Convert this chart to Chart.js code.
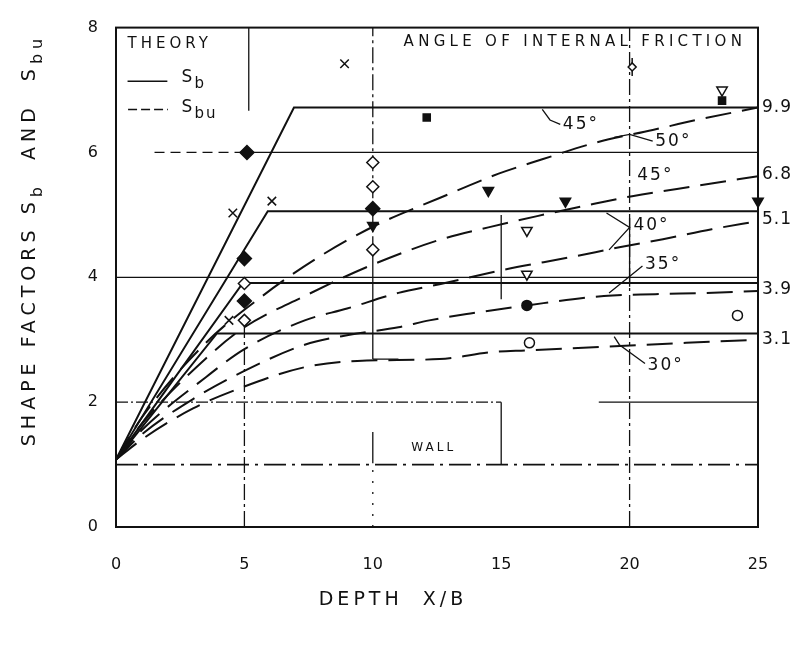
<!DOCTYPE html>
<html>
<head>
<meta charset="utf-8">
<title>Shape factors Sb and Sbu vs depth</title>
<script src="https://cdn.jsdelivr.net/npm/chart.js@4.4.1/dist/chart.umd.min.js"></script>
<style>
  html, body { margin: 0; padding: 0; background: #fff; }
  #chart { display: block; }
</style>
</head>
<body>
<canvas id="chart" width="803" height="647"></canvas>
<script>
// shape factors Sb / Sbu against depth X/B - theory curves plus test points

const xTicks = [0, 5, 10, 15, 20, 25];
const yTicks = [0, 2, 4, 6, 8];

// theory Sb (solid): straight rise, then flat
const sb30X = [0, 3.93, 25], sb30Y = [1.08, 3.1, 3.1];
const sb35X = [0, 4.94, 25], sb35Y = [1.08, 3.91, 3.91];
const sb40X = [0, 5.91, 25], sb40Y = [1.08, 5.06, 5.06];
const sb45X = [0, 6.93, 25], sb45Y = [1.08, 6.72, 6.72];

// theory Sbu (dashed)
const sbu50X = [0, 1, 3.5, 5.7, 7.8, 10.1, 12.6, 14.9, 16.6, 18.7, 20.9, 22.6, 25];
const sbu50Y = [1.08, 1.75, 2.95, 3.7, 4.3, 4.83, 5.27, 5.66, 5.89, 6.16, 6.36, 6.52, 6.72];
const sbu45X = [0, 1, 3.5, 5, 7.35, 9.8, 12.6, 14.5, 16.4, 18.2, 20.1, 22.7, 25];
const sbu45Y = [1.08, 1.65, 2.7, 3.2, 3.7, 4.17, 4.6, 4.8, 4.98, 5.14, 5.3, 5.47, 5.62];
const sbu40X = [0, 1, 3.5, 5, 7.35, 9, 11, 12.6, 15.1, 17.8, 19.6, 21.3, 23.2, 25];
const sbu40Y = [1.08, 1.55, 2.4, 2.85, 3.31, 3.5, 3.75, 3.89, 4.12, 4.33, 4.48, 4.61, 4.77, 4.9];
const sbu35X = [0, 1, 3, 5, 7.35, 9.1, 11, 12.2, 13.8, 16, 19, 21, 23, 25];
const sbu35Y = [1.08, 1.48, 2.05, 2.5, 2.92, 3.08, 3.2, 3.31, 3.42, 3.55, 3.7, 3.73, 3.75, 3.78];
const sbu30X = [0, 1, 3, 5, 7.35, 9.4, 12.6, 14.6, 16, 18.6, 22.2, 25];
const sbu30Y = [1.08, 1.4, 1.9, 2.25, 2.56, 2.66, 2.69, 2.8, 2.83, 2.88, 2.95, 3.0];

// test points
const crossX = [8.9, 4.55, 6.07, 4.4], crossY = [7.42, 5.03, 5.22, 3.31];
const fDiamondX = [5.1, 10, 5, 5], fDiamondY = [6.0, 5.1, 4.3, 3.62];
const oDiamondX = [10, 10, 10, 5, 5], oDiamondY = [5.84, 5.45, 4.44, 3.9, 3.31];
const fTriX = [10, 14.5, 17.5, 25], fTriY = [4.83, 5.39, 5.22, 5.22];
const oTriX = [23.6, 16, 16], oTriY = [7.0, 4.75, 4.05];
const fSquareX = [12.1, 23.6], fSquareY = [6.56, 6.83];
const fCircleX = [16], fCircleY = [3.55];
const oCircleX = [16.1, 24.2], oCircleY = [2.95, 3.39];
const phiX = [20.1], phiY = [7.37];

// end values written at the right edge
const endLabels = ['9.9', '6.8', '5.1', '3.9', '3.1'];
const endLabelY = [6.72, 5.64, 4.93, 3.8, 3.0];

const INK = '#111';
const DASHDOT = [16, 4, 3, 4];

function pts(xs, ys) {
    return xs.map((x, i) => ({ x, y: ys[i] }));
}

function marker(xs, ys, style, opts) {
    return Object.assign({
        data: pts(xs, ys),
        showLine: false,
        pointStyle: style,
        pointRadius: 6,
        pointBorderColor: INK,
        pointBackgroundColor: INK,
        pointBorderWidth: 1.5,
        clip: false
    }, opts || {});
}

function solid(xs, ys) {
    return { data: pts(xs, ys), showLine: true, borderColor: INK, borderWidth: 2, pointRadius: 0, tension: 0 };
}

function dashed(xs, ys) {
    return {
        data: pts(xs, ys), showLine: true, borderColor: INK, borderWidth: 2,
        borderDash: [26, 11], pointRadius: 0, cubicInterpolationMode: 'monotone'
    };
}

// guide lines of the old drawing (partial grid, wall, legend box)
const guides = [
    { x: [0, 25], y: [4, 4], dash: [] },
    { x: [1.5, 5], y: [6, 6], dash: [10, 6] },
    { x: [5, 25], y: [6, 6], dash: [] },
    { x: [0, 15], y: [2, 2], dash: [12, 3, 2, 3] },
    { x: [18.8, 25], y: [2, 2], dash: [] },
    { x: [0, 25], y: [1.0, 1.0], dash: [22, 6, 3, 6], w: 1.8 },
    { x: [5, 5], y: [0, 3.3], dash: DASHDOT },
    { x: [5.17, 5.17], y: [6.67, 8], dash: [] },
    { x: [10, 10], y: [4.4, 8], dash: DASHDOT },
    { x: [10, 10], y: [2.69, 4.4], dash: [] },
    { x: [10, 11], y: [2.69, 2.69], dash: [] },
    { x: [10, 10], y: [1.02, 1.52], dash: [] },
    { x: [10, 10], y: [0, 1.0], dash: [2, 9] },
    { x: [15, 15], y: [3.65, 5.0], dash: [] },
    { x: [15, 15], y: [1.0, 2.0], dash: [] },
    { x: [20, 20], y: [0, 8], dash: DASHDOT },
    { x: [20, 20], y: [3.85, 4.95], dash: [] }
];

const datasets = [
    marker(crossX, crossY, 'crossRot', { pointRadius: 6 }),
    marker(fDiamondX, fDiamondY, 'rectRot', { pointRadius: 7 }),
    marker(oDiamondX, oDiamondY, 'rectRot', { pointRadius: 6, pointBackgroundColor: '#fff' }),
    marker(fTriX, fTriY, 'triangle', { pointRotation: 180, pointRadius: 6 }),
    marker(oTriX, oTriY, 'triangle', { pointRotation: 180, pointRadius: 6, pointBackgroundColor: '#fff' }),
    marker(fSquareX, fSquareY, 'rect', { pointRadius: 5 }),
    marker(fCircleX, fCircleY, 'circle', { pointRadius: 5 }),
    marker(oCircleX, oCircleY, 'circle', { pointRadius: 5, pointBackgroundColor: '#fff' }),
    marker(phiX, phiY, 'rectRot', { pointRadius: 4, pointBackgroundColor: '#fff' }),
    marker(phiX, phiY, 'line', { pointRadius: 9, pointRotation: 90 }),
    solid(sb30X, sb30Y), solid(sb35X, sb35Y), solid(sb40X, sb40Y), solid(sb45X, sb45Y),
    dashed(sbu50X, sbu50Y), dashed(sbu45X, sbu45Y), dashed(sbu40X, sbu40Y),
    dashed(sbu35X, sbu35Y), dashed(sbu30X, sbu30Y)
];

guides.forEach(g => {
    datasets.push({
        data: pts(g.x, g.y), showLine: true, borderColor: INK, borderWidth: g.w || 1.3,
        borderDash: g.dash, pointRadius: 0
    });
});

// text, leaders, legend and frame
const annotate = {
    id: 'annotate',
    afterDatasetsDraw(chart) {
        const { ctx, chartArea: a, scales } = chart;
        const X = v => scales.x.getPixelForValue(v);
        const Y = v => scales.y.getPixelForValue(v);

        function txt(s, x, y, size, align, spacing) {
            ctx.font = size + 'px "DejaVu Sans", sans-serif';
            ctx.letterSpacing = (spacing || 0) + 'px';
            ctx.textAlign = align || 'left';
            ctx.textBaseline = 'middle';
            ctx.fillText(s, x, y);
        }

        function poly(xs, ys) {
            ctx.beginPath();
            xs.forEach((v, i) => i ? ctx.lineTo(X(v), Y(ys[i])) : ctx.moveTo(X(v), Y(ys[i])));
            ctx.stroke();
        }

        ctx.save();
        ctx.fillStyle = INK;
        ctx.strokeStyle = INK;

        // frame
        ctx.lineWidth = 2;
        ctx.strokeRect(a.left, a.top, a.right - a.left, a.bottom - a.top);

        // legend box contents
        txt('THEORY', X(0.45), Y(7.74), 15, 'left', 4);
        ctx.lineWidth = 1.5;
        poly([0.45, 2.0], [7.14, 7.14]);
        ctx.setLineDash([9, 4]);
        poly([0.47, 2.02], [6.69, 6.69]);
        ctx.setLineDash([]);
        txt('S', X(2.55), Y(7.2), 17, 'left', 0);
        txt('b', X(2.55) + 13, Y(7.2) + 7, 15, 'left', 0);
        txt('S', X(2.55), Y(6.72), 17, 'left', 0);
        txt('bu', X(2.55) + 13, Y(6.72) + 7, 15, 'left', 2);
        txt('ANGLE OF INTERNAL FRICTION', X(11.2), Y(7.77), 15, 'left', 4.3);

        // angle labels and their leaders
        txt('45°', X(17.4), Y(6.44), 17, 'left', 2);
        txt('50°', X(21.0), Y(6.17), 17, 'left', 2);
        txt('45°', X(20.3), Y(5.63), 17, 'left', 2);
        txt('40°', X(20.15), Y(4.83), 17, 'left', 2);
        txt('35°', X(20.6), Y(4.2), 17, 'left', 2);
        txt('30°', X(20.7), Y(2.58), 17, 'left', 2);
        ctx.lineWidth = 1.3;
        poly([16.6, 16.9, 17.3], [6.69, 6.52, 6.45]);
        poly([19.4, 20.0, 20.9], [6.24, 6.29, 6.18]);
        poly([19.1, 20.0, 19.2], [5.03, 4.8, 4.44]);
        poly([20.5, 19.9, 19.2], [4.18, 3.98, 3.75]);
        poly([20.6, 19.6, 19.4], [2.62, 2.92, 3.05]);

        // end values on the right
        endLabels.forEach((s, i) => txt(s, a.right + 4, Y(endLabelY[i]), 17, 'left', 1));

        txt('WALL', X(11.5), Y(1.27), 12, 'left', 3);

        // axis titles
        txt('DEPTH  X/B', 393, 600, 19, 'center', 4);

        ctx.translate(30, 240);
        ctx.rotate(-Math.PI / 2);
        const parts = [['SHAPE FACTORS S', 19, 0], ['b', 16, 8], ['  AND  S', 19, 0], ['bu', 16, 8]];
        ctx.letterSpacing = '5px';
        let total = 0;
        parts.forEach(p => { ctx.font = p[1] + 'px "DejaVu Sans", sans-serif'; total += ctx.measureText(p[0]).width; });
        let cx = -total / 2;
        parts.forEach(p => {
            ctx.font = p[1] + 'px "DejaVu Sans", sans-serif';
            ctx.textAlign = 'left';
            ctx.textBaseline = 'middle';
            ctx.fillText(p[0], cx, p[2]);
            cx += ctx.measureText(p[0]).width;
        });
        ctx.restore();
    }
};

new Chart(document.getElementById('chart'), {
    type: 'scatter',
    data: { datasets },
    options: {
        responsive: false,
        animation: false,
        devicePixelRatio: 1,
        layout: { padding: { left: 76, right: 45, top: 14, bottom: 70 } },
        plugins: { legend: { display: false }, tooltip: { enabled: false } },
        scales: {
            x: {
                type: 'linear', min: 0, max: 25,
                afterFit: s => { s.height = 50; },
                afterBuildTicks: s => { s.ticks = xTicks.map(v => ({ value: v })); },
                grid: { display: false, drawTicks: false },
                border: { display: false },
                ticks: { color: INK, padding: 28, font: { family: 'DejaVu Sans', size: 16 } }
            },
            y: {
                type: 'linear', min: 0, max: 8,
                afterFit: s => { s.width = 40; },
                afterBuildTicks: s => { s.ticks = yTicks.map(v => ({ value: v })); },
                grid: { display: false, drawTicks: false },
                border: { display: false },
                ticks: { color: INK, padding: 18, font: { family: 'DejaVu Sans', size: 16 } }
            }
        }
    },
    plugins: [annotate]
});
</script>
</body>
</html>
